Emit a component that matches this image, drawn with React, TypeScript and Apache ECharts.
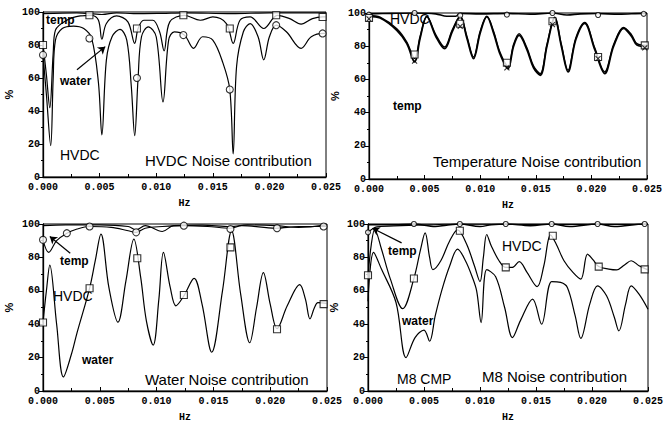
import React, { useEffect, useRef } from "react";
import * as echarts from "echarts";

// ---------- Panel 1: HVDC Noise contribution ----------
const p1Temp = [[0, 99], [0.003, 99.5], [0.0052, 98.5], [0.0065, 99.5], [0.008, 99], [0.0105, 99.2], [0.0125, 99.5], [0.0167, 99], [0.02, 99.5], [0.025, 99.5]];
const p1Water = [[0, 80], [0.0003, 62], [0.0006, 42], [0.0009, 75], [0.0011, 89], [0.0021, 95], [0.0033, 97.6], [0.0043, 98], [0.0049, 95], [0.0052, 83.5], [0.0056, 93], [0.0065, 97.6], [0.0075, 94], [0.0081, 81], [0.0084, 90], [0.0089, 95], [0.0097, 95], [0.0103, 88], [0.0107, 76.5], [0.0112, 94], [0.0125, 98], [0.0139, 95], [0.015, 97], [0.0162, 93], [0.0168, 81], [0.0174, 95], [0.0183, 97], [0.0195, 90], [0.0207, 98], [0.0218, 96], [0.0228, 92.7], [0.0238, 96], [0.0247, 97], [0.025, 97]];
const p1Hvdc = [[0, 74], [0.0003, 50], [0.00068, 19], [0.0009, 60], [0.0011, 83], [0.0017, 90], [0.0027, 91.5], [0.0036, 90], [0.0043, 84], [0.0049, 57], [0.0052, 25.5], [0.0056, 71], [0.0061, 85], [0.0068, 89.5], [0.0074, 83], [0.0078, 55], [0.0081, 25], [0.0084, 60], [0.0087, 85], [0.0093, 91], [0.01, 85], [0.0106, 45.5], [0.0111, 83], [0.0116, 88], [0.0125, 86], [0.0133, 78], [0.0141, 85], [0.015, 83], [0.0159, 69], [0.0165, 53], [0.0168, 14], [0.0171, 67], [0.0177, 88], [0.0183, 93], [0.019, 85], [0.0195, 71], [0.02, 85], [0.0206, 92], [0.0215, 88], [0.0228, 78], [0.0237, 85], [0.0248, 87], [0.025, 87]];
const p1WaterMarks = [[0, 80], [0.0041, 98], [0.0083, 90], [0.0124, 98], [0.0165, 90], [0.0206, 98], [0.0247, 97]];
const p1HvdcMarks = [[0, 74], [0.0041, 84], [0.0083, 60], [0.0124, 86], [0.0165, 53], [0.0206, 92], [0.0247, 87]];

// ---------- Panel 2: Temperature Noise contribution ----------
const p2Hvdc = [[0, 99.5], [0.002, 99.8], [0.0041, 100], [0.006, 99.5], [0.007, 98], [0.0078, 98], [0.0082, 99.8], [0.01, 99.5], [0.0124, 99.8], [0.0145, 99.3], [0.0165, 100], [0.0178, 98.8], [0.019, 99.5], [0.0205, 99.7], [0.0225, 99.3], [0.0247, 99.8], [0.025, 99.8]];
const p2Temp = [[0, 98], [0.001, 97], [0.0025, 89.6], [0.0034, 81.6], [0.0041, 70.5], [0.0046, 85], [0.0052, 97.8], [0.006, 86], [0.0068, 78.5], [0.0075, 89], [0.0082, 97.8], [0.0088, 85], [0.0094, 72.5], [0.01, 88], [0.0106, 97.8], [0.0112, 88], [0.0118, 75], [0.0125, 66.5], [0.013, 80], [0.0135, 86.5], [0.0142, 78], [0.0148, 67], [0.0154, 62.5], [0.016, 80], [0.0167, 97], [0.0173, 80], [0.0179, 64.5], [0.0186, 84], [0.0194, 93.8], [0.0203, 78], [0.0212, 63.5], [0.022, 80], [0.0229, 90.8], [0.0236, 86], [0.0241, 80.7], [0.025, 79.7]];
const p2Water = [[0, 98.5], [0.001, 97.5], [0.0025, 90.5], [0.0034, 82.5], [0.0041, 72.5], [0.0046, 86], [0.0052, 98], [0.006, 87], [0.0068, 79.5], [0.0075, 90], [0.0082, 98], [0.0088, 86], [0.0094, 73.5], [0.01, 89], [0.0106, 98], [0.0112, 89], [0.0118, 76], [0.0125, 68], [0.013, 81], [0.0135, 87.5], [0.0142, 79], [0.0148, 68], [0.0154, 63.5], [0.016, 81], [0.0167, 97.5], [0.0173, 81], [0.0179, 65.5], [0.0186, 85], [0.0194, 94.3], [0.0203, 79], [0.0212, 64.5], [0.022, 81], [0.0229, 91.3], [0.0236, 87], [0.0241, 81.5], [0.025, 80.5]];
const p2HvdcMarks = [[0, 99], [0.0041, 100], [0.0082, 98.5], [0.0124, 99], [0.0165, 100], [0.0206, 98.8], [0.0247, 99.5]];
const p2WaterMarks = [[0, 97], [0.0041, 75], [0.0082, 93.5], [0.0124, 70], [0.0165, 95], [0.0206, 73.5], [0.0248, 80.5]];
const p2TempMarks = [[0, 96.5], [0.0041, 71], [0.0082, 92], [0.0124, 67], [0.0165, 93], [0.0206, 72.5], [0.0248, 79]];

// ---------- Panel 3: Water Noise contribution ----------
const p3Temp = [[0, 99], [0.002, 99.5], [0.005, 99.5], [0.0075, 98.5], [0.0082, 96.5], [0.009, 99], [0.0105, 95.5], [0.0115, 99], [0.014, 99.3], [0.0165, 98.5], [0.018, 99.5], [0.0205, 99], [0.0225, 98], [0.025, 99.5]];
const p3Hvdc = [[0, 90.5], [0.0005, 83], [0.0012, 90], [0.0021, 94.5], [0.003, 97], [0.0041, 98.5], [0.006, 98], [0.0075, 96], [0.0082, 95], [0.009, 97.5], [0.0105, 98.5], [0.0124, 99], [0.0145, 98.5], [0.0165, 97.5], [0.0175, 99], [0.0205, 97.5], [0.0225, 98.5], [0.0248, 98.5], [0.025, 98.5]];
const p3Water = [[0, 41], [0.0003, 60], [0.0006, 75.4], [0.0012, 40], [0.0018, 8.4], [0.0025, 22], [0.003, 35], [0.0041, 61.5], [0.0046, 78], [0.0051, 93.9], [0.0058, 62], [0.0066, 41.2], [0.0073, 66], [0.008, 91], [0.0086, 68], [0.0091, 42], [0.0097, 27.5], [0.0102, 55], [0.0106, 83], [0.0112, 62], [0.0117, 51], [0.0124, 57], [0.0133, 67.5], [0.014, 52], [0.01485, 23.2], [0.0158, 60], [0.0166, 95.9], [0.0174, 58], [0.0182, 28.9], [0.0188, 50], [0.0194, 70.9], [0.02, 52], [0.0206, 37.3], [0.0215, 51], [0.0226, 63.7], [0.0231, 55], [0.0235, 43.2], [0.0239, 50], [0.0242, 52.9], [0.025, 52.5]];
const p3HvdcMarks = [[0, 90.5], [0.0021, 94.5], [0.0041, 98.5], [0.0082, 95], [0.0124, 99], [0.0165, 97], [0.0206, 97.5], [0.0247, 98.5]];
const p3WaterMarks = [[0, 41], [0.0041, 61.5], [0.0083, 79.5], [0.0124, 57.5], [0.0165, 86], [0.0206, 37], [0.0247, 52]];

// ---------- Panel 4: M8 Noise contribution ----------
const p4Top = [[0, 99.5], [0.002, 99.5], [0.0041, 100], [0.006, 98.5], [0.007, 99.3], [0.0082, 100], [0.01, 98.5], [0.011, 99.5], [0.0123, 100], [0.0145, 99], [0.0164, 100], [0.018, 98.5], [0.0205, 100], [0.022, 98.5], [0.0247, 100], [0.025, 100]];
const p4Temp = [[0, 95], [0.0008, 98.3], [0.003, 99], [0.0055, 99.5], [0.008, 100], [0.0125, 99.8], [0.0165, 99.8], [0.0205, 99.8], [0.025, 99.8]];
const p4Hvdc = [[0, 69], [0.0003, 88], [0.0006, 96.7], [0.0012, 85], [0.002, 67], [0.0031, 49.3], [0.0041, 67.4], [0.0047, 85], [0.0051, 94.7], [0.0055, 80], [0.0058, 72.7], [0.0065, 78], [0.0073, 90], [0.008, 96.5], [0.0088, 88], [0.0095, 75], [0.01, 65.5], [0.0103, 80], [0.0106, 93.7], [0.011, 87], [0.0117, 78], [0.0123, 74], [0.0129, 74], [0.0135, 77.5], [0.0142, 71], [0.0151, 62.5], [0.0157, 75], [0.0163, 93.5], [0.0168, 88], [0.0175, 78], [0.0183, 71], [0.019, 67], [0.0196, 82], [0.0201, 78.5], [0.0206, 74.5], [0.0215, 73], [0.0222, 72.5], [0.0229, 75.5], [0.0235, 78], [0.0242, 75], [0.025, 72.5]];
const p4Water = [[0, 53.8], [0.0005, 83], [0.0012, 73], [0.0025, 53], [0.0034, 20], [0.0042, 32], [0.005, 36.5], [0.0055, 29.8], [0.006, 45], [0.0066, 60.6], [0.0073, 75], [0.008, 85], [0.0087, 78], [0.0093, 68.4], [0.0097, 60], [0.0101, 41], [0.0106, 72.7], [0.0114, 68.4], [0.0122, 50], [0.0129, 32], [0.0136, 42], [0.0147, 55], [0.0155, 40], [0.0164, 65.5], [0.0172, 65], [0.0178, 62], [0.0185, 45], [0.019, 31.5], [0.0198, 52], [0.0205, 63], [0.0213, 57], [0.022, 44], [0.0224, 36], [0.023, 52], [0.0235, 63], [0.0242, 58], [0.025, 49]];
const p4TopMarks = [[0, 95], [0.0041, 100], [0.0082, 100], [0.0123, 100], [0.0164, 100], [0.0205, 100], [0.0247, 100]];
const p4HvdcMarks = [[0, 69.3], [0.0041, 67.4], [0.0082, 96], [0.0123, 74], [0.0165, 93], [0.0206, 74.5], [0.0247, 72.8]];

// ---------- axes ----------
const xTicks = [0, 0.005, 0.01, 0.015, 0.02, 0.025];
const yTicks = [0, 20, 40, 60, 80, 100];
const xName = "Hz";
const yName = "%";

const grids = [
  { left: 43, top: 12, width: 283, height: 165 },
  { left: 369, top: 13, width: 278, height: 166 },
  { left: 43, top: 224, width: 284, height: 171 },
  { left: 368, top: 224, width: 280, height: 171 },
];

const mono = "Liberation Mono";
const sans = "Liberation Sans";

export default function App() {
  const ref = useRef<HTMLDivElement>(null);
  useEffect(() => {
    if (!ref.current) return;
    const chart = echarts.init(ref.current, null, { renderer: "svg" });

    const line = (name: string, data: number[][], gi: number, width = 1.2, extra: any = {}) => ({
      type: "line", name, data, xAxisIndex: gi, yAxisIndex: gi, smooth: 0.35,
      showSymbol: false, symbol: "none", lineStyle: { color: "#000", width }, z: 3, ...extra,
    });
    const marks = (data: number[][], gi: number, symbol: string, size = 7) => ({
      type: "scatter", data, xAxisIndex: gi, yAxisIndex: gi, symbol, symbolSize: size,
      itemStyle: { color: symbol.startsWith("path") ? "none" : "#fff", borderColor: "#000", borderWidth: 1.1 }, z: 5,
    });
    const arrow = (from: number[], to: number[]) => ({
      markLine: {
        silent: true, symbol: ["none", "arrow"], symbolSize: 7,
        label: { show: false }, lineStyle: { color: "#000", width: 1.2, type: "solid" },
        data: [[{ coord: from }, { coord: to }]],
      },
    });

    const xAxis = grids.map((_, i) => ({
      type: "value", gridIndex: i, min: 0, max: 0.025, interval: 0.005,
      name: xName, nameLocation: "middle", nameGap: 21,
      nameTextStyle: { fontFamily: mono, fontWeight: "bold", fontSize: 10, color: "#000" },
      axisLine: { lineStyle: { color: "#000", width: 1.3 } },
      axisTick: { inside: true, length: 4, lineStyle: { color: "#000" } },
      minorTick: { show: true, splitNumber: 2, length: 3, lineStyle: { color: "#000" } },
      splitLine: { show: false },
      axisLabel: { formatter: (v: number) => v.toFixed(3), fontFamily: mono, fontWeight: "bold", fontSize: 10, color: "#000", margin: 5 },
    }));
    const yAxis = grids.map((_, i) => ({
      type: "value", gridIndex: i, min: 0, max: 100, interval: 20,
      name: yName, nameLocation: "middle", nameGap: 29, nameRotate: 90,
      nameTextStyle: { fontFamily: sans, fontWeight: "bold", fontSize: 11, color: "#000" },
      axisLine: { lineStyle: { color: "#000", width: 1.3 } },
      axisTick: { inside: false, length: 4, lineStyle: { color: "#000" } },
      minorTick: { show: true, splitNumber: 2, length: 2, lineStyle: { color: "#000" } },
      splitLine: { show: false },
      axisLabel: { fontFamily: mono, fontWeight: "bold", fontSize: 10, color: "#000", margin: 3 },
    }));

    const txt = (text: string, left: number, top: number, size: number, bold = false) => ({
      type: "text", left, top, silent: true,
      style: { text, fontFamily: sans, fontSize: size, fontWeight: bold ? "bold" : "normal", fill: "#000" },
    });

    const xSym = "path://M0,0L10,10M10,0L0,10";

    chart.setOption({
      animation: false,
      backgroundColor: "#fff",
      grid: grids.map((g) => ({ ...g, show: true, borderColor: "#000", borderWidth: 1, backgroundColor: "transparent" })),
      xAxis, yAxis,
      series: [
        line("temp", p1Temp, 0, 1.2),
        line("water", p1Water, 0, 1.2, arrow([0.003, 65], [0.0055, 79])),
        line("HVDC", p1Hvdc, 0, 1.2),
        marks(p1WaterMarks, 0, "rect"),
        marks(p1HvdcMarks, 0, "circle"),

        line("HVDC", p2Hvdc, 1, 1.6),
        line("temp", p2Temp, 1, 1.8),
        line("water", p2Water, 1, 1.4),
        marks(p2HvdcMarks, 1, "circle", 5),
        marks(p2WaterMarks, 1, "rect"),
        marks(p2TempMarks, 1, xSym, 5),

        line("temp", p3Temp, 2, 1.1, arrow([0.0024, 82.5], [0.0006, 92.5])),
        line("HVDC", p3Hvdc, 2, 1.1),
        line("water", p3Water, 2, 1.2),
        marks(p3HvdcMarks, 2, "circle"),
        marks(p3WaterMarks, 2, "rect"),

        line("HVDC", p4Top, 3, 1.5),
        line("temp", p4Temp, 3, 1.1, arrow([0.003, 88.7], [0.0004, 97.5])),
        line("HVDC CMP", p4Hvdc, 3, 1.2),
        line("water", p4Water, 3, 1.2),
        marks(p4TopMarks, 3, "circle", 5),
        marks(p4HvdcMarks, 3, "rect"),
      ],
      graphic: [
        txt("temp", 46, 14, 12, true),
        txt("water", 60, 75, 12, true),
        txt("HVDC", 60, 148, 14),
        txt("HVDC Noise contribution", 145, 153, 15),

        txt("HVDC", 390, 12, 14),
        txt("temp", 393, 100, 12, true),
        txt("Temperature Noise contribution", 433, 154, 15),

        txt("temp", 60, 255, 12, true),
        txt("HVDC", 53, 289, 14),
        txt("water", 82, 354, 12, true),
        txt("Water Noise contribution", 145, 372, 15),

        txt("temp", 388, 245, 12, true),
        txt("water", 402, 315, 12, true),
        txt("HVDC", 502, 239, 14),
        txt("M8 CMP", 397, 372, 14),
        txt("M8 Noise contribution", 482, 369, 15),
      ],
    });
    return () => chart.dispose();
  }, []);
  return <div ref={ref} style={{ width: 667, height: 423, position: "absolute", left: 0, top: 0, background: "#fff" }} />;
}
